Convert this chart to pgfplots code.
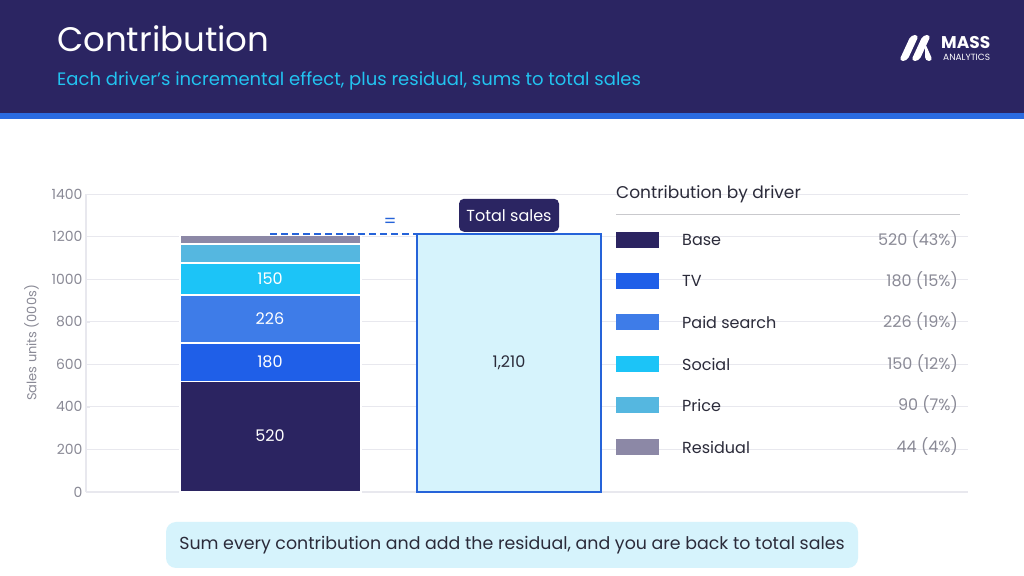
\documentclass[border=0pt]{standalone}
\usepackage{pgfplots}
\pgfplotsset{compat=1.18}
\usepackage{fontspec}
\setmainfont{Poppins}
\definecolor{navy}{HTML}{2B2562}
\definecolor{stripe}{HTML}{2A6BE0}
\definecolor{cyant}{HTML}{22C3F0}
\definecolor{cbase}{HTML}{2B2461}
\definecolor{ctv}{HTML}{1F5FE8}
\definecolor{cpaid}{HTML}{3E7CE8}
\definecolor{csoc}{HTML}{1CC4F7}
\definecolor{cprice}{HTML}{55B7E0}
\definecolor{cres}{HTML}{8C88A6}
\definecolor{tfill}{HTML}{D6F3FC}
\definecolor{tline}{HTML}{2563D9}
\definecolor{gridc}{HTML}{E8E8EE}
\definecolor{tickc}{HTML}{8A8A96}
\definecolor{txt}{HTML}{2B2B3A}
\definecolor{valc}{HTML}{8A8A96}
\newcommand{\fs}[1]{\fontsize{#1bp}{#1bp}\selectfont}
\begin{document}
\begin{tikzpicture}[x=1bp,y=1bp]
% background
\fill[white] (0,0) rectangle (1024,576);
\fill[navy] (0,576) rectangle (1024,463);
\fill[stripe] (0,463) rectangle (1024,457);
\node[anchor=base west,white,inner sep=0] at (57,524) {\fs{34}Contribution};
\node[anchor=base west,cyant,inner sep=0] at (57,490) {\fs{18}Each driver's incremental effect, plus residual, sums to total sales};
% logo
\fill[white,rounded corners=4bp] (899,515) -- (911,541) -- (919,541) -- (907,515) -- cycle;
\fill[white,rounded corners=4bp] (911,515) -- (923,541) -- (931,541) -- (919,515) -- cycle;
\fill[white,rounded corners=4bp] (925,515) -- (925,533) -- (933,515) -- cycle;
\node[anchor=base west,white,inner sep=0] at (941,527) {\fs{17}\bfseries MASS};
\node[anchor=base west,white,inner sep=0] at (943,515) {\fs{9}ANALYTICS};
% axis
\begin{axis}[at={(86bp,84bp)},anchor=south west,width=882bp,height=298bp,scale only axis,
  xmin=86,xmax=968,ymin=0,ymax=1400,
  axis x line*=bottom, axis y line*=left,
  axis line style={gridc,line width=1.2pt},
  xtick=\empty, ytick={0,200,...,1400},
  ymajorgrids, grid style={gridc,line width=0.8pt},
  major tick length=4bp, tick style={gridc},
  yticklabel style={tickc,font=\fs{14}},
  /pgf/number format/assume math mode=true,
  /pgf/number format/1000 sep={},
  ylabel={Sales units (000s)}, ylabel style={tickc,font=\fs{13}},
  ylabel shift=6bp,
  clip=false]
\addplot[fill=cbase,draw=white,line width=1.5pt] coordinates {(180,0)(180,520)(361,520)(361,0)} -- cycle;
\addplot[fill=ctv,draw=white,line width=1.5pt] coordinates {(180,520)(180,700)(361,700)(361,520)} -- cycle;
\addplot[fill=cpaid,draw=white,line width=1.5pt] coordinates {(180,700)(180,926)(361,926)(361,700)} -- cycle;
\addplot[fill=csoc,draw=white,line width=1.5pt] coordinates {(180,926)(180,1076)(361,1076)(361,926)} -- cycle;
\addplot[fill=cprice,draw=white,line width=1.5pt] coordinates {(180,1076)(180,1166)(361,1166)(361,1076)} -- cycle;
\addplot[fill=cres,draw=white,line width=1.5pt] coordinates {(180,1166)(180,1205)(361,1205)(361,1166)} -- cycle;
\addplot[fill=tfill,draw=tline,line width=2pt] coordinates {(417,0)(417,1210)(601,1210)(601,0)} -- cycle;
\addplot[draw=tline,no marks,line width=2pt,dash pattern=on 7bp off 4bp] coordinates {(270,1210)(417,1210)};
\node[white] at (axis cs:270,265) {\fs{16}520};
\node[white] at (axis cs:270,612) {\fs{16}180};
\node[white] at (axis cs:270,815) {\fs{16}226};
\node[white] at (axis cs:270,1001) {\fs{16}150};
\node[txt] at (axis cs:509,608) {\fs{16}1,210};
\node[tline] at (axis cs:390,1265) {\fs{18}=};
\node[fill=navy,text=white,rounded corners=5bp,minimum width=100bp,minimum height=33bp,inner sep=0] at (axis cs:509,1300) {\fs{16}Total sales};
\end{axis}
% legend
\node[anchor=base west,txt,inner sep=0] at (616,377) {\fs{17}Contribution by driver};
\draw[gridc!70!gray,line width=0.8pt] (616,362) -- (960,362);
\foreach \y/\c/\l/\v in {336/cbase/Base/{520\ (43\%)},295/ctv/TV/{180\ (15\%)},254/cpaid/Paid search/{226\ (19\%)},212/csoc/Social/{150\ (12\%)},171/cprice/Price/{90\ (7\%)},129/cres/Residual/{44\ (4\%)}}{
  \fill[\c] (616,\y-8) rectangle (659,\y+8);
  \node[anchor=west,txt,inner sep=0] at (682,\y) {\fs{16}\l};
  \node[anchor=east,valc,inner sep=0] at (958,\y) {\fs{16}\v};
}
% bottom callout
\fill[tfill,rounded corners=10bp] (166,8) rectangle (858,54);
\node[txt] at (512,31) {\fs{17.4}Sum every contribution and add the residual, and you are back to total sales};
\end{tikzpicture}
\end{document}
